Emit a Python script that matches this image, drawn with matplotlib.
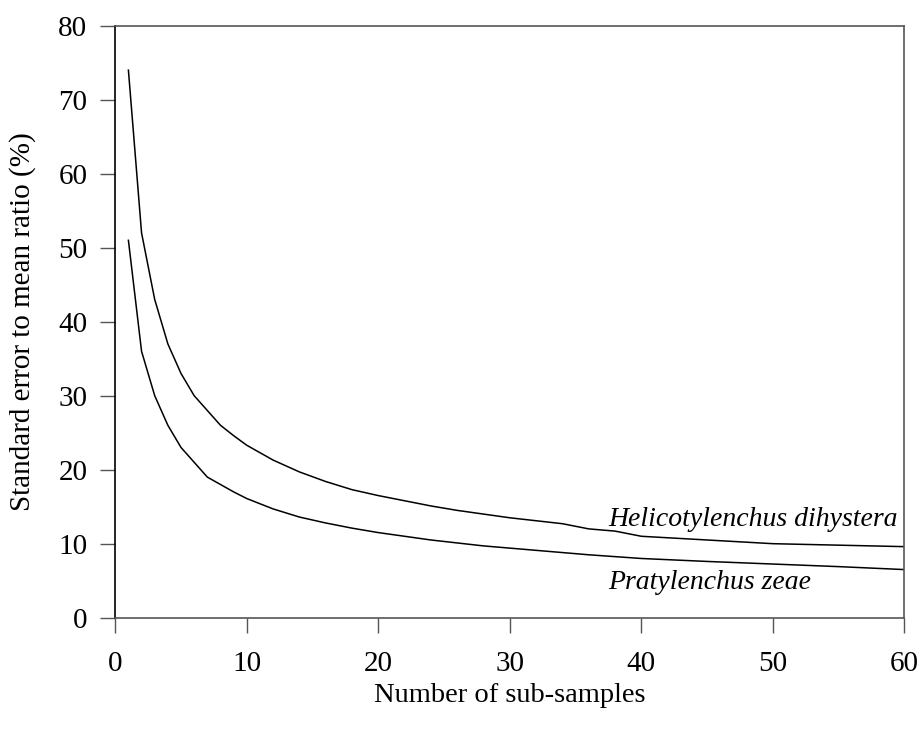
import numpy as np
import matplotlib.pyplot as plt

# sub-sample counts and SE/mean ratios (%)
n_sub = [1, 2, 3, 4, 5, 6, 7, 8, 9, 10, 12, 14, 16, 18, 20, 22, 24, 26, 28,
         30, 32, 34, 36, 38, 40, 45, 50, 55, 60]
helico = [74, 52, 43, 37, 33, 30, 28, 26, 24.6, 23.3, 21.3, 19.7, 18.4, 17.3,
          16.5, 15.8, 15.1, 14.5, 14.0, 13.5, 13.1, 12.7, 12.0, 11.7, 11.0,
          10.5, 10.0, 9.8, 9.6]
praty = [51, 36, 30, 26, 23, 21, 19, 18, 17, 16.1, 14.7, 13.6, 12.8, 12.1,
         11.5, 11.0, 10.5, 10.1, 9.7, 9.4, 9.1, 8.8, 8.5, 8.25, 8.0, 7.6,
         7.25, 6.9, 6.5]
x_ticks = [0, 10, 20, 30, 40, 50, 60]
y_ticks = [0, 10, 20, 30, 40, 50, 60, 70, 80]

plt.rcParams['font.family'] = ['Liberation Serif', 'DejaVu Serif']

fig = plt.figure(figsize=(9.22, 7.29), dpi=100)
ax = fig.add_axes([0.125, 0.1527, 0.856, 0.812])

ax.plot(n_sub, helico, color='black', lw=1.1)
ax.plot(n_sub, praty, color='black', lw=1.1)

ax.text(37.5, 13.3, 'Helicotylenchus dihystera', style='italic',
        fontsize=20, va='center', ha='left')
ax.text(37.5, 4.8, 'Pratylenchus zeae', style='italic',
        fontsize=20, va='center', ha='left')

ax.set_xlim(0, 60)
ax.set_ylim(0, 80)
ax.set_xticks(x_ticks)
ax.set_yticks(y_ticks)
ax.tick_params(direction='out', length=11, width=1, labelsize=21,
               color='#555555')
ax.tick_params(axis='x', pad=13)
ax.tick_params(axis='y', pad=9)

for side in ['top', 'bottom', 'right']:
    ax.spines[side].set_color('#555555')
ax.spines['left'].set_color('black')
for s in ax.spines.values():
    s.set_linewidth(1.2)

ax.set_xlabel('Number of sub-samples', fontsize=20.5, labelpad=4)
ax.set_ylabel('Standard error to mean ratio (%)', fontsize=21, labelpad=16)

fig.savefig('out.png', dpi=100)
